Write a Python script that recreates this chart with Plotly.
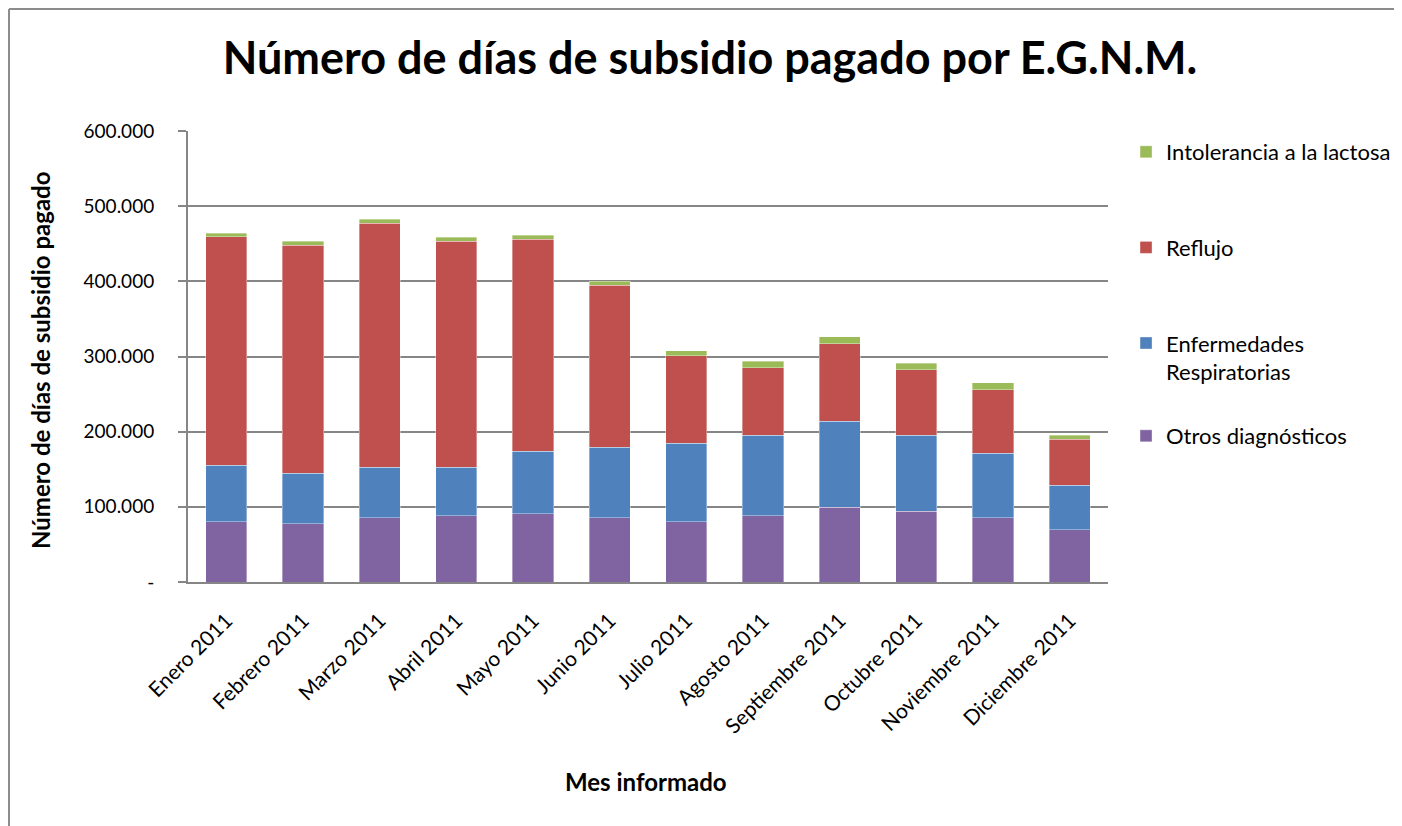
import plotly.graph_objects as go

MONTHS = [
    "Enero 2011", "Febrero 2011", "Marzo 2011", "Abril 2011", "Mayo 2011", "Junio 2011",
    "Julio 2011", "Agosto 2011", "Septiembre 2011", "Octubre 2011", "Noviembre 2011", "Diciembre 2011",
]

# stacked from bottom to top
OTROS = [80400, 77800, 85800, 88400, 91100, 85800, 80400, 88400, 99600, 93800, 85800, 69800]
RESPIRATORIAS = [75000, 66700, 66600, 64000, 83100, 93300, 104000, 106700, 114200, 101300, 85300, 58600]
REFLUJO = [303600, 303600, 325000, 301000, 281800, 215600, 116900, 90200, 103500, 87600, 84900, 61400]
LACTOSA = [5300, 5300, 5300, 5300, 5300, 5700, 6200, 8400, 8900, 8400, 8900, 5300]

Y_TICKS = [0, 100000, 200000, 300000, 400000, 500000, 600000]
Y_TICK_LABELS = ["-", "100.000", "200.000", "300.000", "400.000", "500.000", "600.000"]

FONT = "Lato, 'Open Sans', sans-serif"
GRID = "#868686"

# the page body adds an 8px offset, so the figure is 8px smaller than the window
W, H = 1394, 818
L, R, T, B = 180, 294, 123, 244
PW, PH = W - L - R, H - T - B

# name, values, colour, legend rank, legend box
series = [
    ("Otros diagnósticos", OTROS, "#8064A2", 4, "legend2"),
    ("Enfermedades<br>Respiratorias", RESPIRATORIAS, "#4F81BD", 3, "legend"),
    ("Reflujo", REFLUJO, "#C0504D", 2, "legend"),
    ("Intolerancia a la lactosa", LACTOSA, "#9BBB59", 1, "legend"),
]

fig = go.Figure()
for name, values, color, rank, legend in series:
    fig.add_trace(
        go.Bar(
            name=name,
            x=MONTHS,
            y=values,
            marker=dict(color=color, line=dict(color="rgba(255,255,255,0.6)", width=0.6)),
            legendgroup=f"g{rank}",
            legendrank=rank,
            legend=legend,
        )
    )

legend_style = dict(
    x=1.0196,
    xanchor="left",
    yanchor="top",
    traceorder="grouped",
    tracegroupgap=64,
    valign="top",
    font=dict(family=FONT, size=22),
    bgcolor="rgba(0,0,0,0)",
)

fig.update_layout(
    barmode="stack",
    bargap=0.465,
    width=W,
    height=H,
    margin=dict(l=L, r=R, t=T, b=B, autoexpand=False),
    paper_bgcolor="white",
    plot_bgcolor="white",
    font=dict(family=FONT, size=18, color="black"),
    title=dict(
        text="<b>Número de días de subsidio pagado por E.G.N.M.</b>",
        x=702 / W,
        xanchor="center",
        y=1 - 50 / H,
        yanchor="middle",
        font=dict(family=FONT, size=45, color="black"),
    ),
    legend=dict(y=1.0, **legend_style),
    legend2=dict(y=(H - B - 407) / PH, **legend_style),
    xaxis=dict(
        tickangle=-45,
        showline=True,
        linecolor=GRID,
        linewidth=2,
        ticks="",
        ticklabelstandoff=16,
        tickfont=dict(family=FONT, size=21),
    ),
    yaxis=dict(
        range=[0, 600000],
        tickvals=Y_TICKS,
        ticktext=Y_TICK_LABELS,
        showgrid=True,
        gridcolor=GRID,
        gridwidth=2,
        showline=True,
        linecolor=GRID,
        linewidth=2,
        ticks="outside",
        ticklen=8,
        tickcolor=GRID,
        tickwidth=2,
        ticklabelstandoff=20,
        tickfont=dict(family=FONT, size=19),
        zeroline=False,
    ),
    showlegend=True,
)

# axis titles
fig.add_annotation(
    text="<b>Mes informado</b>", xref="paper", yref="paper",
    x=(638 - L) / PW, y=(H - B - 773) / PH, xanchor="center", yanchor="middle",
    showarrow=False, font=dict(family=FONT, size=24),
)
fig.add_annotation(
    text="<b>Número de días de subsidio pagado</b>", xref="paper", yref="paper",
    x=(32 - L) / PW, y=(H - B - 352) / PH, xanchor="center", yanchor="middle",
    textangle=-90, showarrow=False, font=dict(family=FONT, size=24),
)

# chart frame (left and top edges visible in the original)
fx = (1 - L) / PW
fy = (H - B - 1) / PH
fig.add_shape(
    type="line", xref="paper", yref="paper",
    x0=fx, x1=fx, y0=fy, y1=(H - B - H - 10) / PH,
    line=dict(color="#8C8C8C", width=2),
)
fig.add_shape(
    type="line", xref="paper", yref="paper",
    x0=fx, x1=(W + 10 - L) / PW, y0=fy, y1=fy,
    line=dict(color="#8C8C8C", width=2),
)

fig.write_html("out.html")
